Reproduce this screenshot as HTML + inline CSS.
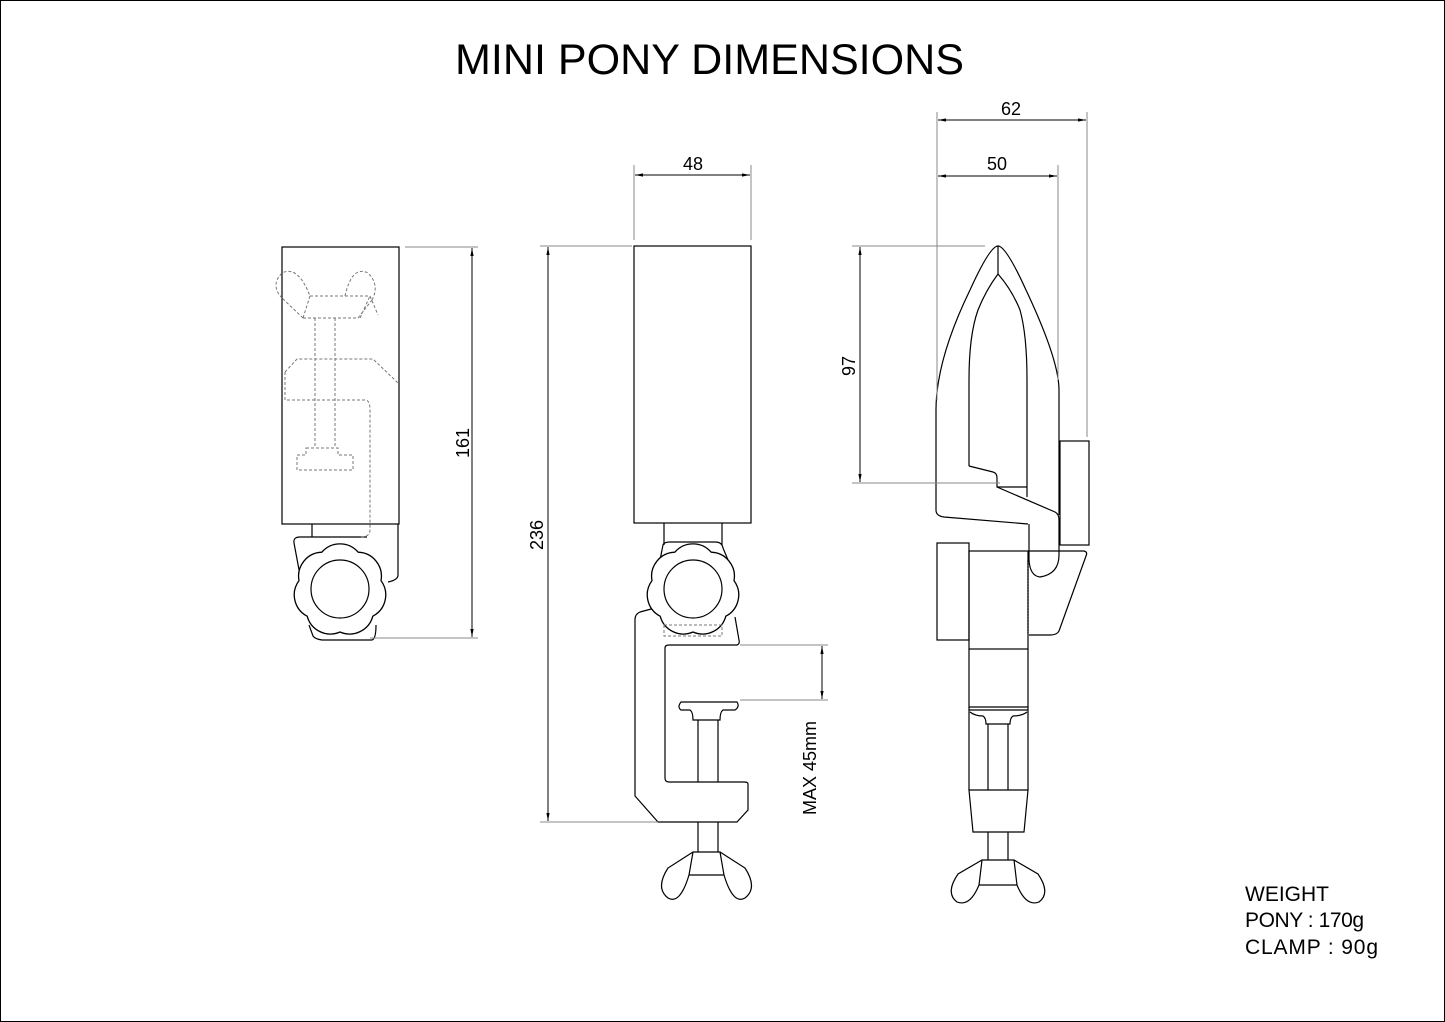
<!DOCTYPE html>
<html><head><meta charset="utf-8"><style>html,body{margin:0;padding:0;background:#fff}svg{display:block}</style></head>
<body>
<svg width="1445" height="1022" viewBox="0 0 1445 1022" xmlns="http://www.w3.org/2000/svg" font-family="Liberation Sans, sans-serif">
<defs>
<marker id="a" viewBox="0 0 10 10" refX="10" refY="5" markerWidth="8" markerHeight="8" orient="auto-start-reverse"><path d="M0,3 L10,5 L0,7 z" fill="#000"/></marker>
<path id="knob" d="M18.2,-37.8 A24 24 0 0 1 41,-9.4 A24 24 0 0 1 32.8,26.2 A24 24 0 0 1 0,42 A24 24 0 0 1 -32.8,26.2 A24 24 0 0 1 -41,-9.4 A24 24 0 0 1 -18.2,-37.8 A24 24 0 0 1 18.2,-37.8 Z" fill="#fff" stroke="#000" stroke-width="1.3" stroke-linejoin="round"/>
</defs>
<rect x="0.5" y="0.5" width="1444" height="1021" fill="none" stroke="#000" stroke-width="1"/>
<text x="455" y="74" font-size="43" font-weight="300" textLength="509" lengthAdjust="spacingAndGlyphs">MINI PONY DIMENSIONS</text>

<g fill="none" stroke="#000" stroke-width="1.2">
<!-- LEFT VIEW -->
<rect x="282" y="247" width="117" height="277"/>
<path d="M312 524 V537 M398 524 V575 Q398 580 388 582 M367 537 H300 Q293 537 294 543 L300 575 M309 625 L313 636 Q315 639 322 640 L372 640 Q376 639 376 625"/>
<g transform="translate(340,590)"><use href="#knob"/></g>
<circle cx="340" cy="589" r="29"/>
<g stroke="#777" stroke-dasharray="3,2" stroke-width="1">
<path d="M310 296 L370 296 L378 315 M360 318 L370 296 M310 296 L303 318 M303 318 L358 318 M303 318 L282 298 M358 318 L372 300"/>
<path d="M282 298 Q270 285 282 273 Q298 265 310 296 M372 300 Q380 285 368 273 Q352 265 345 296"/>
<path d="M315 318 V448 M335 318 V448 M306 448 H338 V455 H353 V470 H297 V455 H306 Z"/>
<path d="M285 372 L297 359 H373 L398 383 M285 372 V400 H365 Q370 400 370 410 V530 Q370 537 360 537"/>
</g>

<!-- MIDDLE VIEW -->
<rect x="634" y="246" width="117" height="277"/>
<path d="M664 523 V545 M722 523 V545 M660 560 L663 545 Q664 542 670 542 H715 Q722 542 723 548 L728 560"/>
<path d="M655 608 L640 612 Q635 614 635 620 V796 L658 822 H737 L748 810 V784 Q748 782 744 782 H669 Q665 782 665 778 V648 Q665 645 669 645 H737 Q740 644 739 640 L735 617"/>
<g transform="translate(693,590)"><use href="#knob"/></g>
<circle cx="693" cy="589" r="29"/>
<rect x="664" y="625" width="58" height="11" stroke="#777" stroke-dasharray="3,2" stroke-width="1"/>
<path d="M681 702 H737 Q740 707 735 710 H723 Q720 712 720 720 H693 Q693 712 690 710 H681 Q677 707 681 702 Z"/>
<path d="M698 720 V782 M718 720 V782 M698 822 V852 M718 822 V852"/>
<path d="M693 852 H720 L724 875 H689 Z M693 852 L668 868 Q655 888 668 898 Q680 905 689 875 M720 852 L745 868 Q758 888 745 898 Q733 905 724 875"/>

<!-- RIGHT VIEW -->
<path d="M998 246 Q990 246 970 290 Q936 360 936 410 V510 Q936 516 944 517 L1028 524"/>
<path d="M998 246 Q1006 246 1026 290 Q1059 360 1059 390 V515"/>
<path d="M998 246 V274 M998 274 Q986 290 978 310 Q969 335 969 380 V466 M998 274 Q1012 290 1020 310 Q1027 335 1027 380 V497"/>
<path d="M969 466 L993 472 Q997 473 997 478 V487 L1055 512 Q1059 514 1059 520 V555 Q1059 574 1040 577 Q1030 576 1029 560 V524"/>
<path d="M997 487 H1027"/>
<rect x="1060" y="441" width="29" height="104"/>
<rect x="937" y="543" width="32" height="97"/>
<rect x="969" y="551" width="59" height="98"/>
<path d="M1029 551 H1084 Q1088 552 1086 556 L1059 631 Q1057 635 1050 635 H1029"/>
<path d="M1028 560 V633" stroke-dasharray="2,1"/>
<path d="M969 649 V707 H1028 V649"/>
<path d="M969 707 V790 M1028 707 V790 M969 710 H1028 M970 712 Q975 716 983 716 Q986 718 986 724 H1010 Q1010 718 1013 716 Q1022 716 1027 712 M988 724 V790 M1008 724 V790"/>
<path d="M969 790 H1028 L1024 832 H973 Z"/>
<path d="M988 832 V860 M1008 832 V860"/>
<path d="M982 860 H1014 L1017 885 H979 Z M982 860 L958 874 Q945 893 957 902 Q970 907 979 885 M1014 860 L1038 874 Q1051 893 1039 902 Q1026 907 1017 885"/>
</g>

<!-- dimension lines -->
<g stroke="#888" stroke-width="1" fill="none">
<path d="M405 247 H478 M370 638 H478"/>
<path d="M540 246 H632 M540 822 H658"/>
<path d="M634 165 V240 M751 165 V240"/>
<path d="M740 645 H828 M740 700 H828"/>
<path d="M852 246 H985 M852 483 H1000"/>
<path d="M937 112 V400 M1087 112 V437 M1058 165 V380"/>
</g>
<g stroke="#000" stroke-width="1" marker-start="url(#a)" marker-end="url(#a)">
<line x1="472" y1="248" x2="472" y2="637"/>
<line x1="548" y1="247" x2="548" y2="821"/>
<line x1="635" y1="175" x2="750" y2="175"/>
<line x1="822" y1="646" x2="822" y2="699"/>
<line x1="860" y1="247" x2="860" y2="482"/>
<line x1="938" y1="120" x2="1086" y2="120"/>
<line x1="938" y1="176" x2="1057" y2="176"/>
</g>
<g font-size="18" fill="#000" text-anchor="middle">
<text transform="translate(469,443) rotate(-90)">161</text>
<text transform="translate(543,535) rotate(-90)">236</text>
<text x="693" y="170">48</text>
<text transform="translate(816,768) rotate(-90)">MAX 45mm</text>
<text transform="translate(855,366) rotate(-90)">97</text>
<text x="1011" y="115">62</text>
<text x="997" y="170">50</text>
</g>
<g font-size="21" fill="#000">
<text x="1245" y="901">WEIGHT</text>
<text x="1245" y="927" textLength="119">PONY : 170g</text>
<text x="1245" y="954" textLength="133">CLAMP : 90g</text>
</g>
</svg>
</body></html>
